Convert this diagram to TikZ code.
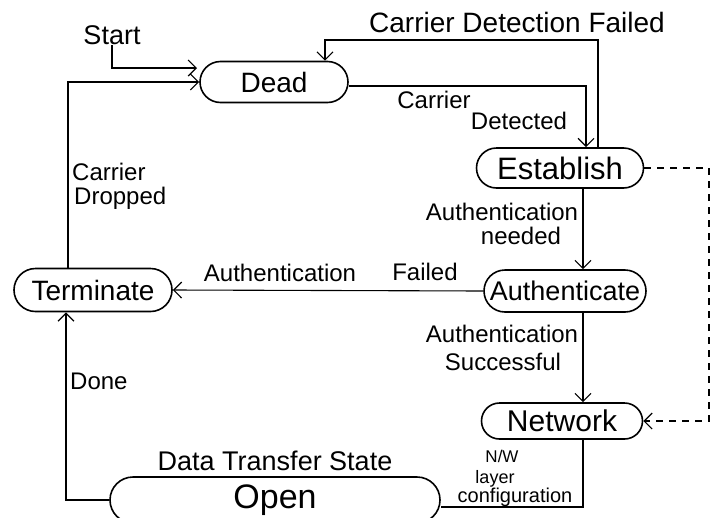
\documentclass[tikz,border=0pt]{standalone}
\usepackage{fontspec}
\setmainfont{Liberation Sans}
\usetikzlibrary{shapes.misc,arrows.meta,calc}

\tikzset{
  state/.style={rounded rectangle, draw, line width=1.6pt, inner sep=0pt,
                font=\fontsize{28}{30}\selectfont},
  lbl/.style={inner sep=0pt, font=\fontsize{24}{26}\selectfont},
  arr/.style={line width=1.1pt, -{Straight Barb[length=8pt,width=16pt,line width=1.2pt]}},
  conn/.style={line width=1.1pt},
}

\begin{document}
\begin{tikzpicture}[x=1pt,y=-1pt]
  \clip (0,0) rectangle (712,517);
  \fill[white] (0,0) rectangle (712,517);

  % states
  \node[state, minimum width=148pt, minimum height=41pt] (dead) at (274,82) {Dead};
  \node[state, minimum width=167pt, minimum height=40pt,
        font=\fontsize{31}{33}\selectfont] (est) at (560,168) {Establish};
  \node[state, minimum width=162pt, minimum height=42pt,
        font=\fontsize{27}{29}\selectfont] (auth) at (565,291) {Authenticate};
  \node[state, minimum width=158pt, minimum height=43pt] (term) at (93,290) {Terminate};
  \node[state, minimum width=161pt, minimum height=36pt,
        font=\fontsize{30}{32}\selectfont] (net) at (562,421) {Network};
  \node[state, minimum width=330pt, minimum height=46pt,
        font=\fontsize{34}{36}\selectfont] (open) at (275,500) {Open};

  % reference points for the routed connectors
  \coordinate (startin) at (197,68);
  \coordinate (vline) at (583,0);
  \coordinate (dashx) at (709,0);
  \coordinate (deadtop) at ([xshift=51pt]dead.north);
  \coordinate (failturn) at (325,40);

  % labels
  \node[lbl, font=\fontsize{27}{29}\selectfont] (start) at (112,35) {Start};
  \node[lbl, font=\fontsize{28}{30}\selectfont] (cdf) at (517,22) {Carrier Detection Failed};
  \node[lbl] (cdet1) at (434,100) {Carrier};
  \node[lbl] (cdet2) at (519,121) {Detected};
  \node[lbl, anchor=west] (cdrop1) at (72,172) {Carrier};
  \node[lbl, anchor=west] (cdrop2) at (74,198) {Dropped};
  \node[lbl] (an1) at (502,212) {Authentication};
  \node[lbl] (an2) at (521,236) {needed};
  \node[lbl] (af1) at (280,273) {Authentication};
  \node[lbl] (af2) at (425,272) {Failed};
  \node[lbl] (as1) at (502,334) {Authentication};
  \node[lbl] (as2) at (503,362) {Successful};
  \node[lbl, anchor=west] (done) at (70,381) {Done};
  \node[lbl, font=\fontsize{27}{29}\selectfont] (dts) at (275,461) {Data Transfer State};
  \node[lbl, anchor=base, font=\fontsize{17}{19}\selectfont] (nw1) at (502,462) {N/W};
  \node[lbl, anchor=base, font=\fontsize{18}{20}\selectfont] (nw2) at (495,483) {layer};
  \node[lbl, anchor=base, font=\fontsize{20}{22}\selectfont] (nw3) at (515,502) {configuration};

  % connectors
  \draw[arr] (start.south) |- (startin);
  \draw[arr] ([xshift=-25pt]term.north) |- (dead.west);
  \draw[arr] ([xshift=38pt]est.north) |- (failturn) -- (deadtop);
  \draw[arr] ([yshift=-4pt]dead.east) -| ([xshift=26pt]est.north);
  \draw[arr, dash pattern=on 7pt off 6pt] (est.east) -- (est.east -| dashx) |- (net.east);
  \draw[arr] (est.south -| vline) -- (auth.north -| vline);
  \draw[arr] (auth.west) -- (term.east);
  \draw[arr] (auth.south -| vline) -- (net.north -| vline);
  \draw[conn] (net.south -| vline) |- ([yshift=-7pt]open.east);
  \draw[arr] (open.west) -| ([xshift=-27pt]term.south);
\end{tikzpicture}
\end{document}
